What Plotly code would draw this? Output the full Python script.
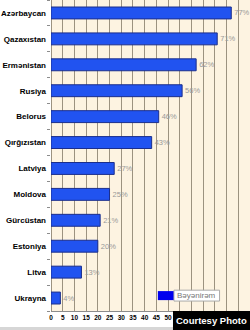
import plotly.graph_objects as go

countries = ["Azərbaycan", "Qazaxıstan", "Ermənistan", "Rusiya", "Belorus", "Qırğızıstan",
             "Latviya", "Moldova", "Gürcüstan", "Estoniya", "Litva", "Ukrayna"]
values = [77, 71, 62, 56, 46, 43, 27, 25, 21, 20, 13, 4]
series_name = "Bəyənirəm"
grid_ticks = list(range(0, 90, 5))
label_ticks = list(range(0, 55, 5))

fig = go.Figure()
fig.add_trace(go.Bar(
    y=countries, x=values, orientation="h", name=series_name,
    marker=dict(color="#2153F0", line=dict(color="#1B2E8C", width=1)),
    width=0.46,
    text=[f"{v}%" for v in values], textposition="outside",
    textfont=dict(family="Liberation Sans, Arial", size=7.5, color="#999999"),
    cliponaxis=False, showlegend=False,
))

fig.update_layout(
    width=250, height=330,
    margin=dict(l=51, r=0, t=0, b=19),
    paper_bgcolor="white", plot_bgcolor="#FDF3E1",
    font=dict(family="Liberation Sans, Arial", color="black"),
    showlegend=False,
)
fig.update_xaxes(
    range=[0, 85], tickvals=grid_ticks,
    ticktext=[str(t) if t in label_ticks else "" for t in grid_ticks],
    showgrid=True, gridcolor="#9C9280", gridwidth=1,
    zeroline=True, zerolinecolor="#9C9280", zerolinewidth=1,
    showline=True, linecolor="#8c8c8c", linewidth=1,
    ticks="", tickfont=dict(size=6.5, family="Liberation Sans, Arial", color="black", weight="bold"),
)
fig.update_yaxes(
    categoryorder="array", categoryarray=countries[::-1],
    tickson="boundaries", ticks="outside", ticklen=3, tickcolor="#8c8c8c",
    showgrid=False, showline=False,
    tickfont=dict(size=8, family="Liberation Sans, Arial", color="black", weight="bold"),
    ticklabelstandoff=4,
)
# legend box emulating the original
fig.add_shape(type="rect", xref="paper", yref="paper", x0=0.537, x1=0.618, y0=0.035, y1=0.064,
              fillcolor="#0000EE", line=dict(width=0))
fig.add_shape(type="rect", xref="paper", yref="paper", x0=0.618, x1=0.847, y0=0.032, y1=0.067,
              fillcolor="white", line=dict(color="#aaaaaa", width=1))
fig.add_annotation(xref="paper", yref="paper", x=0.7325, y=0.0495, xanchor="center", yanchor="middle",
                   text=series_name, showarrow=False,
                   font=dict(size=8, color="#777777", family="Liberation Sans, Arial"))
# bottom grey strip
fig.add_shape(type="rect", xref="paper", yref="paper", x0=-0.26, x1=1.0, y0=-0.0514, y1=-0.062,
              fillcolor="#d6d6d6", line=dict(width=0), layer="above")
# Courtesy Photo badge
fig.add_shape(type="rect", xref="paper", yref="paper", x0=0.613, x1=1.0, y0=0, y1=-0.062,
              fillcolor="black", line=dict(width=0), layer="above")
fig.add_annotation(xref="paper", yref="paper", x=0.8065, y=-0.0305, xanchor="center", yanchor="middle",
                   text="<b>Courtesy Photo</b>", showarrow=False,
                   font=dict(size=9.5, color="white", family="Liberation Sans, Arial"))
fig.write_html("out.html")
